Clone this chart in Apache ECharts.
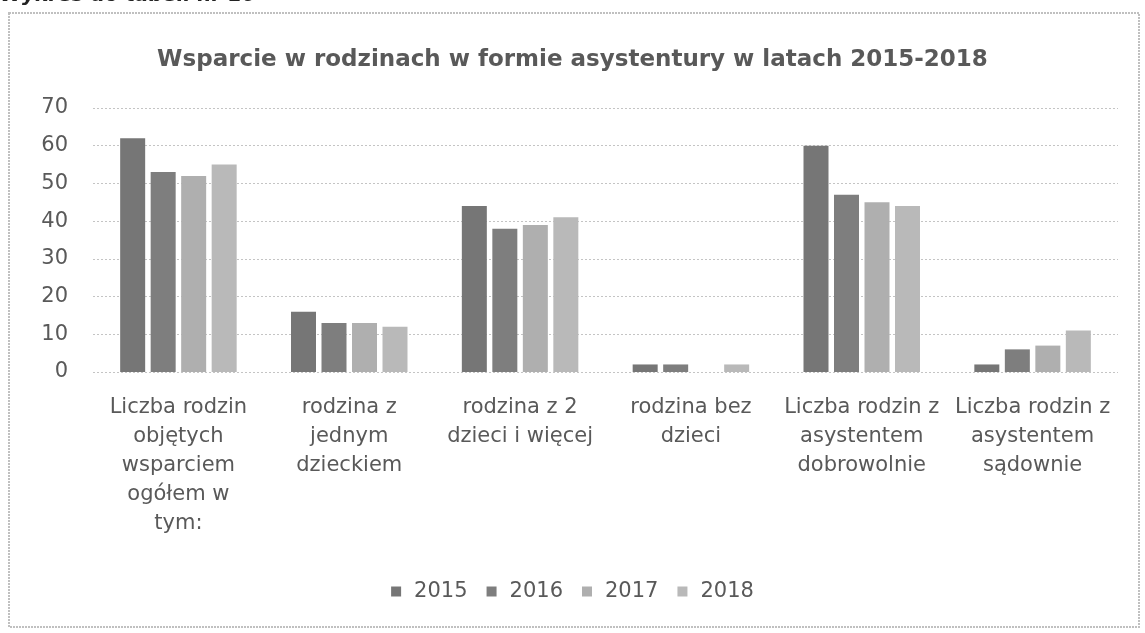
<!DOCTYPE html>
<html lang="pl">
<head>
  <meta charset="UTF-8" />
  <title>Wsparcie w rodzinach w formie asystentury</title>
  <script src="https://cdn.jsdelivr.net/npm/echarts@6/dist/echarts.min.js"></script>
  <style>
    html, body { margin: 0; padding: 0; background: #fff; }
    #chart { width: 1145px; height: 633px; }
  </style>
</head>
<body>
  <div id="chart"></div>
  <script>
    // kategorie (oś X)
    const categories = [
      'Liczba rodzin\nobjętych\nwsparciem\nogółem w\ntym:',
      'rodzina z\njednym\ndzieckiem',
      'rodzina z 2\ndzieci i więcej',
      'rodzina bez\ndzieci',
      'Liczba rodzin z\nasystentem\ndobrowolnie',
      'Liczba rodzin z\nasystentem\nsądownie'
    ];
    const years = ['2015', '2016', '2017', '2018'];

    // wartości
    const values2015 = [62, 16, 44, 2, 60, 2];
    const values2016 = [53, 13, 38, 2, 47, 6];
    const values2017 = [52, 13, 39, 0, 45, 7];
    const values2018 = [55, 12, 41, 2, 44, 11];

    const colors = ['#767676', '#7e7e7e', '#afafaf', '#b9b9b9'];
    const textColor = '#595959';
    const fontFamily = 'DejaVu Sans';

    const chart = echarts.init(document.getElementById('chart'));

    const seriesData = [values2015, values2016, values2017, values2018];

    chart.setOption({
      animation: false,
      color: colors,
      title: {
        text: 'Wsparcie w rodzinach w formie asystentury w latach 2015-2018',
        left: 'center',
        top: 44,
        textStyle: { fontFamily: fontFamily, fontSize: 23, fontWeight: 'bold', color: textColor }
      },
      legend: {
        data: years,
        left: 'center',
        top: 576,
        icon: 'rect',
        itemWidth: 10,
        itemHeight: 10,
        itemGap: 19,
        textStyle: { fontFamily: fontFamily, fontSize: 21, color: textColor, padding: [0, 0, 0, 8] }
      },
      grid: { left: 93, right: 27, top: 108, bottom: 261, containLabel: false },
      xAxis: {
        type: 'category',
        data: categories,
        axisLine: { show: false },
        axisTick: { show: false },
        axisLabel: {
          interval: 0,
          margin: 21,
          lineHeight: 29,
          fontFamily: fontFamily,
          fontSize: 21,
          color: textColor
        }
      },
      yAxis: {
        type: 'value',
        min: 0,
        max: 70,
        interval: 10,
        axisLine: { show: false },
        axisTick: { show: false },
        axisLabel: { margin: 25, fontFamily: fontFamily, fontSize: 21, color: textColor },
        splitLine: { lineStyle: { color: '#c4c4c4', type: [2, 2], width: 1 } }
      },
      series: years.map((y, i) => ({
        name: y,
        type: 'bar',
        data: seriesData[i],
        barWidth: 25,
        barGap: '22%'
      })),
      graphic: [
        {
          type: 'rect',
          shape: { x: 9, y: 13, width: 1130, height: 614 },
          style: { fill: 'none', stroke: '#c0c0c0', lineWidth: 2, lineDash: [2, 1] },
          silent: true
        },
        {
          type: 'text',
          left: 0,
          top: -14,
          style: { text: 'Wykres do tabeli nr 10', font: 'italic bold 20px "DejaVu Sans"', fill: '#222' },
          silent: true
        }
      ]
    });
  </script>
</body>
</html>
